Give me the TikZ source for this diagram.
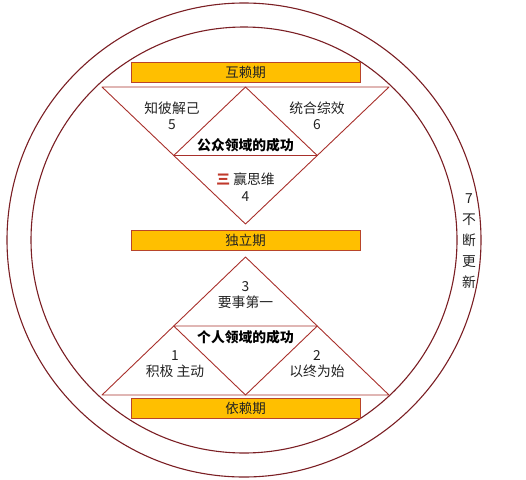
\documentclass[tikz,border=0pt]{standalone}
\usepackage{fontspec}
\usetikzlibrary{calc}
\setmainfont{Noto Sans CJK SC}
\definecolor{circcol}{HTML}{7B1F24}
\definecolor{tricol}{HTML}{A8302B}
\definecolor{barfill}{HTML}{FFBF00}
\definecolor{barline}{HTML}{B8452A}
\definecolor{txt}{HTML}{222222}
\definecolor{threered}{HTML}{C0392B}
\tikzset{
  circ/.style={draw=circcol, line width=1.1pt},
  tri/.style={draw=tricol, line width=0.9pt, line join=round},
  bar/.style={draw=barline, fill=barfill, line width=1pt, minimum width=229pt, minimum height=20pt, inner sep=0pt, text=txt, font=\fontsize{13.5}{14}\selectfont},
  lbl/.style={text=txt, font=\fontsize{13.8}{16.5}\selectfont, align=center, inner sep=0pt},
  hd/.style={text=black, font=\fontsize{13.8}{16}\selectfont\bfseries, inner sep=0pt},
}
\begin{document}
\begin{tikzpicture}[x=1pt,y=-1pt]
\useasboundingbox (0,0) rectangle (526,479);
% circles
\coordinate (c) at (244,240);
\draw[circ] (c) circle (237);
\draw[circ] (c) circle (213);
% top triangle
\coordinate (ta) at (102,87);
\coordinate (tb) at (389,87);
\coordinate (tc) at (245.5,224);
\draw[tri] (ta) -- (tb) -- (tc) -- cycle;
\draw[tri] ($(ta)!0.5!(tb)$) -- ($(tb)!0.5!(tc)$) -- ($(ta)!0.5!(tc)$) -- cycle;
% bottom triangle
\coordinate (ba) at (102,395);
\coordinate (bb) at (389,395);
\coordinate (bc) at (245.5,257);
\draw[tri] (ba) -- (bb) -- (bc) -- cycle;
\draw[tri] ($(ba)!0.5!(bb)$) -- ($(bb)!0.5!(bc)$) -- ($(ba)!0.5!(bc)$) -- cycle;
% bars
\node[bar] (b1) at (245.5,72) {互赖期};
\node[bar] (b2) at (245.5,240) {独立期};
\node[bar] (b3) at (245.5,408) {依赖期};
% top texts
\node[lbl] (t5) at (172,116) {知彼解己\\5};
\node[lbl] (t6) at (317,116) {统合综效\\6};
\node[hd] (pub) at (245.5,145) {公众领域的成功};
\node[lbl] (t4) at (245.5,187) {{\color{threered}\bfseries 三} 赢思维\\4};
% bottom texts
\node[lbl] (t3) at (245.5,295) {3\\要事第一};
\node[hd] (pri) at (245.5,337) {个人领域的成功};
\node[lbl] (t1) at (175,364) {1\\积极 主动};
\node[lbl] (t2) at (317,364) {2\\以终为始};
% right
\node[lbl, align=center, font=\fontsize{13.8}{21}\selectfont] (t7) at (469,241) {7\\不\\断\\更\\新};
\end{tikzpicture}
\end{document}
